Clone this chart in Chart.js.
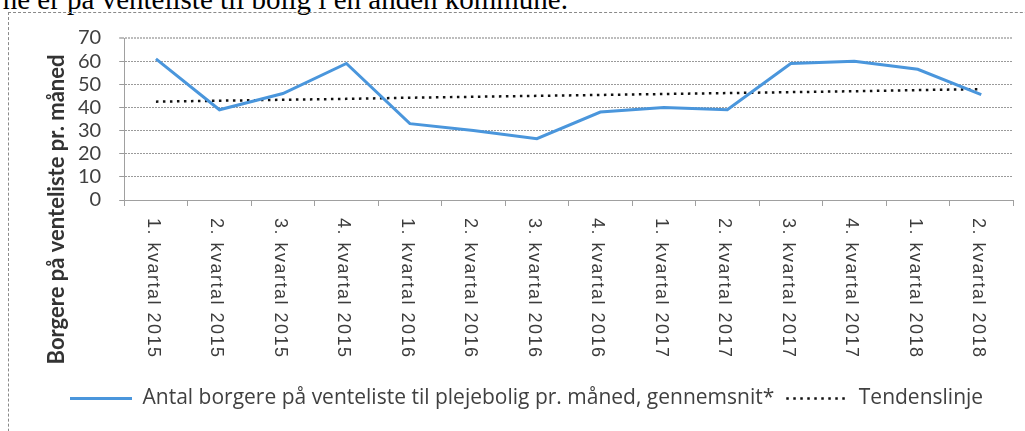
<!DOCTYPE html>
<html>
<head>
<meta charset="utf-8">
<script src="https://cdn.jsdelivr.net/npm/chart.js@4/dist/chart.umd.min.js"></script>
<style>
  html, body { margin:0; padding:0; background:#fff; width:1025px; height:431px; overflow:hidden; position:relative; }
  #top { position:absolute; right:457px; top:-15px; font-family:"Liberation Serif", "Times New Roman", serif; font-size:29px; line-height:28px; white-space:nowrap; color:#000; }
  #frame { position:absolute; left:8px; top:12px; width:1100px; height:500px; border:1px dashed #8a8a8a; box-sizing:border-box; }
  #wrap { position:absolute; left:0; top:0; width:1025px; height:431px; }
</style>
</head>
<body>
<div id="top">ne er på venteliste til bolig i en anden kommune.</div>
<div id="frame"></div>
<div id="wrap"><canvas id="c" width="1025" height="431"></canvas></div>
<script>
const categories = ['1. kvartal 2015','2. kvartal 2015','3. kvartal 2015','4. kvartal 2015',
  '1. kvartal 2016','2. kvartal 2016','3. kvartal 2016','4. kvartal 2016',
  '1. kvartal 2017','2. kvartal 2017','3. kvartal 2017','4. kvartal 2017',
  '1. kvartal 2018','2. kvartal 2018'];
const antalBorgere = [61, 39, 46, 59, 33, 30, 26.5, 38, 40, 39, 59, 60, 56.5, 45.5];
const tendenslinje = [42.5, 42.9, 43.3, 43.7, 44.2, 44.6, 45.0, 45.4, 45.8, 46.2, 46.6, 47.0, 47.5, 47.9];
const seriesLabels = ['Antal borgere på venteliste til plejebolig pr. måned, gennemsnit*', 'Tendenslinje'];
const yTitle = 'Borgere på venteliste pr. måned';
const yMin = 0, yMax = 70, yStep = 10;

const xLabelPlugin = {
  id: 'xLabels',
  afterDraw(chart) {
    const ctx = chart.ctx, xs = chart.scales.x;
    ctx.save();
    ctx.font = '18px "Liberation Sans", Arial, sans-serif';
    ctx.fillStyle = '#3c3c3c';
    try { ctx.letterSpacing = '1.5px'; } catch(e) {}
    ctx.textAlign = 'left';
    ctx.textBaseline = 'middle';
    categories.forEach((c, i) => {
      const x = xs.getPixelForValue(i) - 3;
      ctx.save();
      ctx.translate(x, xs.top + 18);
      ctx.rotate(Math.PI / 2);
      ctx.fillText(c, 0, 0);
      ctx.restore();
    });
    ctx.restore();
  }
};

new Chart(document.getElementById('c'), {
  type: 'line',
  data: {
    labels: categories,
    datasets: [
      { label: seriesLabels[0], data: antalBorgere, borderColor: '#4a96dc', backgroundColor: '#4a96dc',
        borderWidth: 3, pointRadius: 0, pointStyle: 'line', tension: 0, fill: false },
      { label: seriesLabels[1], data: tendenslinje, borderColor: '#111', backgroundColor: '#111',
        borderWidth: 2.5, borderDash: [2.5, 4.5], pointRadius: 0, pointStyle: 'line', tension: 0, fill: false }
    ]
  },
  options: {
    responsive: false,
    animation: false,
    layout: { padding: { left: 58, right: 12, top: 0, bottom: 12 } },
    plugins: {
      tooltip: { enabled: false },
      subtitle: { display: true, text: '', padding: 0, font: { size: 10, lineHeight: '38px' } },
      title: { display: true, position: 'left', text: yTitle, color: '#333',
        font: { family: 'Lato', size: 22, weight: 'bold', lineHeight: 1.2 },
        padding: { top: -14.2, bottom: 0 } },
      legend: {
        position: 'bottom', align: 'start',
        labels: { usePointStyle: true, pointStyleWidth: 62, boxHeight: 10, padding: 12,
          color: '#404040', font: { family: 'Open Sans', size: 21 },
          generateLabels(chart) {
            const items = Chart.defaults.plugins.legend.labels.generateLabels(chart);
            items.forEach((it, i) => {
              const ds = chart.data.datasets[i];
              it.lineDash = ds.borderDash || [];
              it.lineWidth = ds.borderWidth;
              it.strokeStyle = ds.borderColor;
              it.fillStyle = ds.borderColor;
            });
            return items;
          } }
      }
    },
    scales: {
      x: {
        offset: true,
        grid: { display: true, drawOnChartArea: false, drawTicks: true, tickLength: 6, color: '#a0a0a0', offset: true },
        border: { display: true, color: '#a0a0a0', width: 1 },
        ticks: { display: false },
        afterFit(scale) { scale.height = 419 - 200 - (scale.chart.legend ? scale.chart.legend.height : 0); }
      },
      y: {
        min: yMin, max: yMax,
        grid: {
          color: (c) => c.tick && c.tick.value === yMax ? '#bdbdbd' : '#9a9a9a',
          lineWidth: (c) => c.tick && c.tick.value === yMax ? 2 : 1,
          tickLength: 5
        },
        border: { display: true, color: '#a0a0a0', width: 1, dash: [2, 1] },
        ticks: { stepSize: yStep, autoSkip: false, padding: 18, color: '#404040', font: { family: 'Lato', size: 20 } },
        afterFit(scale) { scale.width = 54; }
      }
    }
  },
  plugins: [xLabelPlugin]
});
</script>
</body>
</html>
